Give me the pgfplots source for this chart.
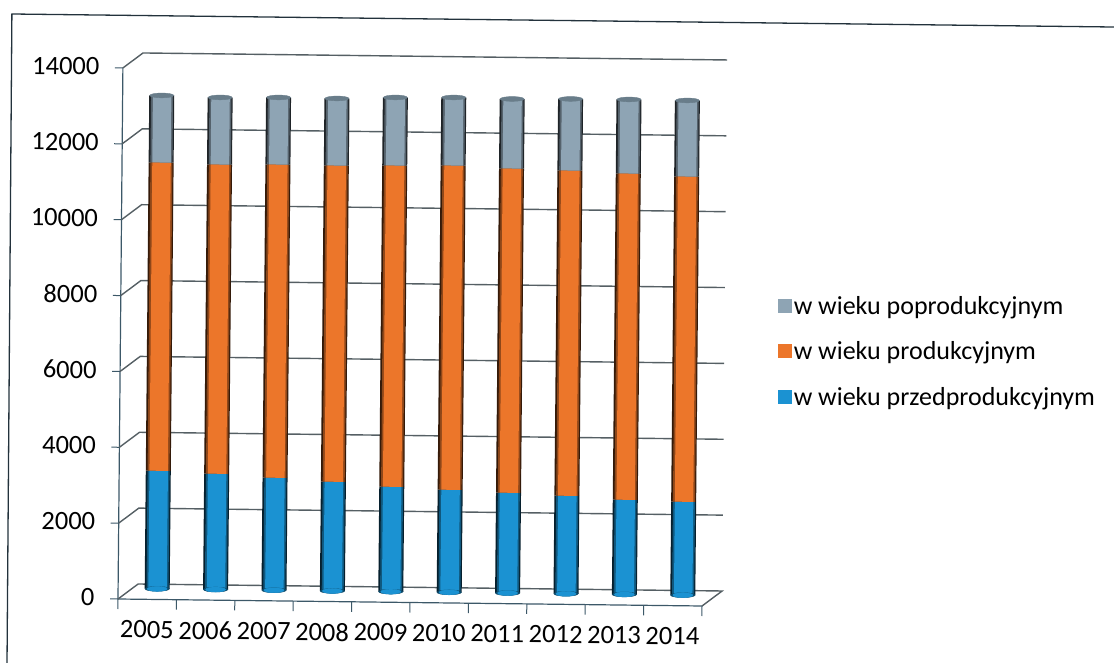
\documentclass[border=0pt]{standalone}
\usepackage{fontspec}
\setmainfont{Carlito}
\usepackage{pgfplots}
\usepackage{pgfplotstable}
\pgfplotsset{compat=1.18}

\definecolor{wall}{RGB}{60, 88, 104}
\definecolor{gridc}{RGB}{85, 95, 100}
\definecolor{framec}{RGB}{35, 50, 60}
\definecolor{grayb}{RGB}{142, 164, 180}
\definecolor{orangeb}{RGB}{236, 118, 42}
\definecolor{blueb}{RGB}{27, 146, 210}
\definecolor{capc}{RGB}{105, 125, 138}

\pgfplotstableread{
year young working old zero
2005 3113 8127 1768 0
2006 3053 8153 1768 0
2007 2966 8258 1768 0
2008 2879 8337 1768 0
2009 2765 8470 1794 0
2010 2704 8549 1794 0
2011 2644 8549 1833 0
2012 2583 8575 1887 0
2013 2496 8602 1952 0
2014 2462 8575 2005 0
}\population

% one layer of the cylinders, outermost first: width, x position, share of black
\newcommand{\cylinderlayer}[3]{
	\addplot[quiver={u=0, v=\thisrow{young}}, no marks, line width=#1, draw=black!#3!blueb,
		xshift=#2, yshift=10.5pt, forget plot]
		table[x=year, y=zero] {\population};
	\addplot[quiver={u=0, v=\thisrow{working}}, no marks, line width=#1, draw=black!#3!orangeb,
		xshift=#2, yshift=10.5pt, forget plot]
		table[x=year, y=young] {\population};
	\addplot[quiver={u=0, v=\thisrow{old}}, no marks, line width=#1, draw=black!#3!grayb,
		xshift=#2, yshift=10.5pt, forget plot]
		table[x=year, y expr=\thisrow{young}+\thisrow{working}] {\population};
}

\begin{document}
\begin{tikzpicture}
\useasboundingbox (-118pt,-65pt) rectangle (996pt,597pt);
\begin{axis}[
	at={(0pt,-9pt)},
	anchor=south west,
	x={(58.4pt,-0.7pt)},
	y={(0.000357pt,0.03793pt)},
	xmin=2004.5, xmax=2014.5,
	ymin=0, ymax=14000,
	clip=false,
	axis x line=bottom,
	axis y line=left,
	axis line style={-, draw=wall, line width=1.2pt},
	xtick={2005,...,2014},
	minor xtick={2004.5,2005.5,...,2014.5},
	ytick={0,2000,...,14000},
	scaled y ticks=false,
	major x tick style={draw=none},
	tick align=outside,
	major tick length=8pt,
	minor tick length=10pt,
	tick style={draw=wall, line width=1pt},
	xticklabel style={/pgf/number format/1000 sep={}, /pgf/number format/assume math mode=true,
		font=\fontsize{26.5}{30}\selectfont, rotate=-0.6, yshift=-10pt, anchor=north},
	yticklabel style={/pgf/number format/1000 sep={}, /pgf/number format/assume math mode=true,
		font=\fontsize{26.5}{30}\selectfont, rotate=-0.6, xshift=-12pt, yshift=1.5pt, anchor=east},
	legend style={
		at={(axis description cs:1.121,0.58)},
		anchor=north west,
		draw=none, fill=none,
		font=\fontsize{26}{30}\selectfont,
		row sep=22pt,
		inner sep=0pt,
		cells={anchor=west},
	},
	legend image code/.code={\fill[#1] (-5pt,-6pt) rectangle (8pt,7pt);},
	barpos/.style={xshift=10pt, yshift=10.5pt},
]
	% frame of the scanned page
	\addplot[framec, line width=1.3pt, forget plot] coordinates {
		(2002.61,-1749) (2002.591,15388) (2021.46,15393)};

	% floor and back wall
	\addplot[gridc, line width=1.4pt, forget plot] coordinates {
		(2004.5,0) (2004.842,402) (2014.842,402) (2014.5,0)};
	\pgfplotsinvokeforeach{2000,4000,...,14000}{
		\addplot[gridc, line width=1.4pt, forget plot] coordinates {
			(2004.5,#1) (2004.842,#1+402) (2014.842,#1+402)};
	}

	% rounded foot of the cylinders
	\addplot[only marks, mark=*, mark size=12.2pt,
		mark options={draw=black!50!blueb, fill=black!50!blueb, yscale=0.2},
		barpos, forget plot] table[x=year, y=zero] {\population};
	\addplot[only marks, mark=*, mark size=10pt,
		mark options={draw=blueb, fill=blueb, yscale=0.25},
		barpos, forget plot] table[x=year, y=zero] {\population};

	% cylinders, dark edge first
	\cylinderlayer{25pt}{10pt}{78}
	\cylinderlayer{22pt}{10.3pt}{40}
	\cylinderlayer{18.5pt}{10.4pt}{0}

	% top of the cylinders
	\addplot[only marks, mark=*, mark size=12pt,
		mark options={draw=capc, fill=capc, yscale=0.2},
		barpos, forget plot]
		table[x=year, y expr=\thisrow{young}+\thisrow{working}+\thisrow{old}] {\population};

	\addlegendimage{grayb}
	\addlegendentry{w wieku poprodukcyjnym}
	\addlegendimage{orangeb}
	\addlegendentry{w wieku produkcyjnym}
	\addlegendimage{blueb}
	\addlegendentry{w wieku przedprodukcyjnym}
\end{axis}
\end{tikzpicture}
\end{document}
